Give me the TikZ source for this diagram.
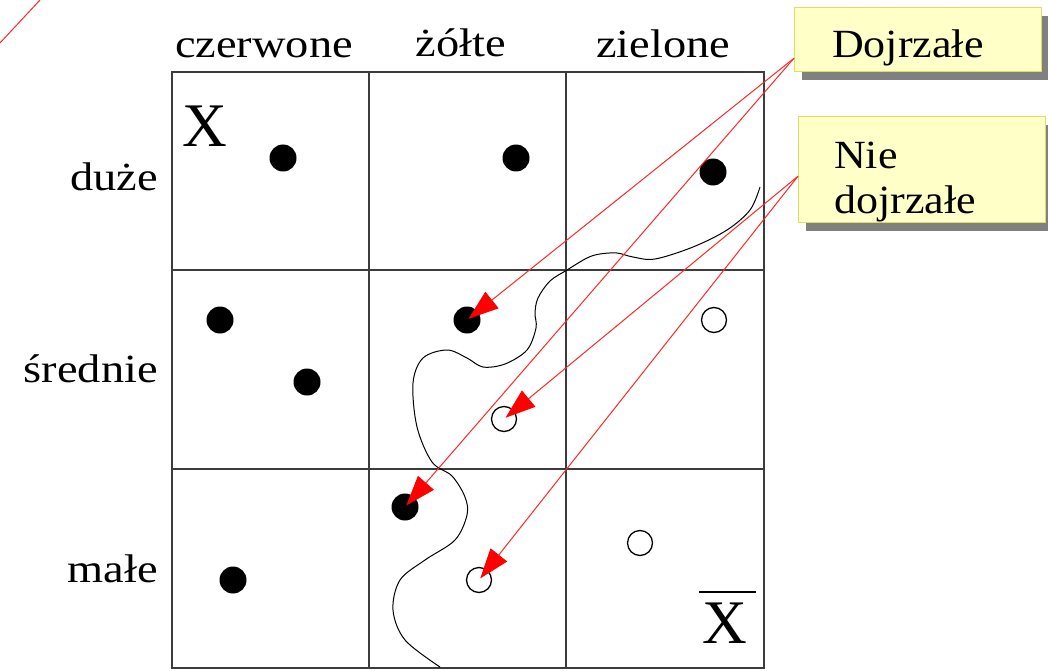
\documentclass[tikz,border=0pt]{standalone}
\usepackage{fontspec}
\setmainfont{Liberation Serif}
\newfontfamily\labfont[FakeStretch=1.16]{Liberation Serif}
\newfontfamily\callfont[FakeStretch=1.1]{Liberation Serif}
\usetikzlibrary{arrows.meta,calc,shadows}
\definecolor{callfill}{RGB}{255,255,200}
\definecolor{callborder}{RGB}{222,222,96}
\definecolor{gridcol}{RGB}{60,60,60}
\definecolor{redline}{RGB}{255,40,40}
\begin{document}
\begin{tikzpicture}[x=1pt,y=-1pt,
  lab/.style={inner sep=0pt,font=\labfont\fontsize{40}{45}\selectfont},
  bigx/.style={inner sep=0pt,font=\fontsize{62}{62}\selectfont},
  fdot/.style={circle,fill=black,minimum size=27pt,inner sep=0pt},
  hdot/.style={circle,draw=black,line width=1.3pt,fill=white,minimum size=25pt,inner sep=0pt},
  callout/.style={draw=callborder,line width=1.2pt,fill=callfill,anchor=north west,
     minimum width=247pt,minimum height=64pt,inner sep=0pt,
     drop shadow={shadow xshift=7pt,shadow yshift=-8pt,fill=black!50,opacity=1}},
  calltext/.style={inner sep=0pt,align=left,font=\callfont\fontsize{40}{45}\selectfont},
  redarrow/.style={draw=redline,line width=1pt,
     -{Triangle[length=30pt,width=21pt,fill=red,color=red]},shorten >=2pt},
  gridline/.style={draw=gridcol,line width=1.6pt},
  boundary/.style={draw=black,line width=1pt}
]
\useasboundingbox (0,0) rectangle (1048,671);
\fill[white] (0,0) rectangle (1048,671);

% stray red line
\coordinate (s1) at (0,43);
\coordinate (s2) at (40,0);
\draw[draw=redline,line width=1pt] (s1) -- (s2);

% grid
\draw[gridline] (172,72) rectangle (764,668);
\draw[gridline] (369,72) -- (369,668);
\draw[gridline] (566,72) -- (566,668);
\draw[gridline] (172,270) -- (764,270);
\draw[gridline] (172,469) -- (764,469);

% labels
\node[lab,anchor=base] (c1) at (264,58) {czerwone};
\node[lab,anchor=base] (c2) at (461,57) {żółte};
\node[lab,anchor=base] (c3) at (663,58) {zielone};
\node[lab,anchor=base east] (r1) at (158,190) {duże};
\node[lab,anchor=base east] (r2) at (158,382) {średnie};
\node[lab,anchor=base east] (r3) at (158,582) {małe};

\node[bigx,anchor=base west] (x1) at (182,147) {X};
\node[bigx,anchor=base west] (x2) at (702,643) {X};
\draw[line width=1.6pt] ([xshift=-3pt,yshift=10pt]x2.north west) -- ([xshift=9pt,yshift=10pt]x2.north east);

% boundary curve
\draw[boundary] plot[smooth,tension=0.55] coordinates {
 (760,187) (750,210) (727,230) (693,247) (655,259) (633,257) (617,253)
 (600,254) (587,258) (567,270) (550,281) (538,298) (535,313) (536,328)
 (527,350) (505,364) (483,367) (467,358) (447,350) (423,358) (413,383)
 (417,427) (432,462) (452,476) (465,497) (467,515) (455,540) (425,560)
 (400,580) (393,610) (405,640) (440,667)};

% dots
\node[fdot] (a1) at (283,158) {};
\node[fdot] (a2) at (516,158) {};
\node[fdot] (a3) at (713,172) {};
\node[fdot] (b1) at (220,320) {};
\node[fdot] (b2) at (307,382) {};
\node[fdot] (b3) at (467,320) {};
\node[hdot] (b4) at (504,419) {};
\node[hdot] (b5) at (714,320) {};
\node[fdot] (e1) at (233,580) {};
\node[fdot] (e2) at (405,507) {};
\node[hdot] (e3) at (479,580) {};
\node[hdot] (e4) at (640,543) {};

% callouts
\node[callout] (d) at (794,7) {};
\node[calltext,anchor=base west] (dt) at (832,58) {Dojrzałe};
\node[callout,minimum height=106pt] (n) at (798,116) {};
\node[calltext,anchor=north west] (nt) at (834,142) {Nie\\dojrzałe};

% arrows
\draw[redarrow] ([yshift=14pt]d.south west) -- (b3.center);
\draw[redarrow] ([yshift=14pt]d.south west) -- (e2.center);
\draw[redarrow] ([yshift=47pt]n.south west) -- (b4.center);
\draw[redarrow] ([yshift=47pt]n.south west) -- (e3.center);
\end{tikzpicture}
\end{document}
